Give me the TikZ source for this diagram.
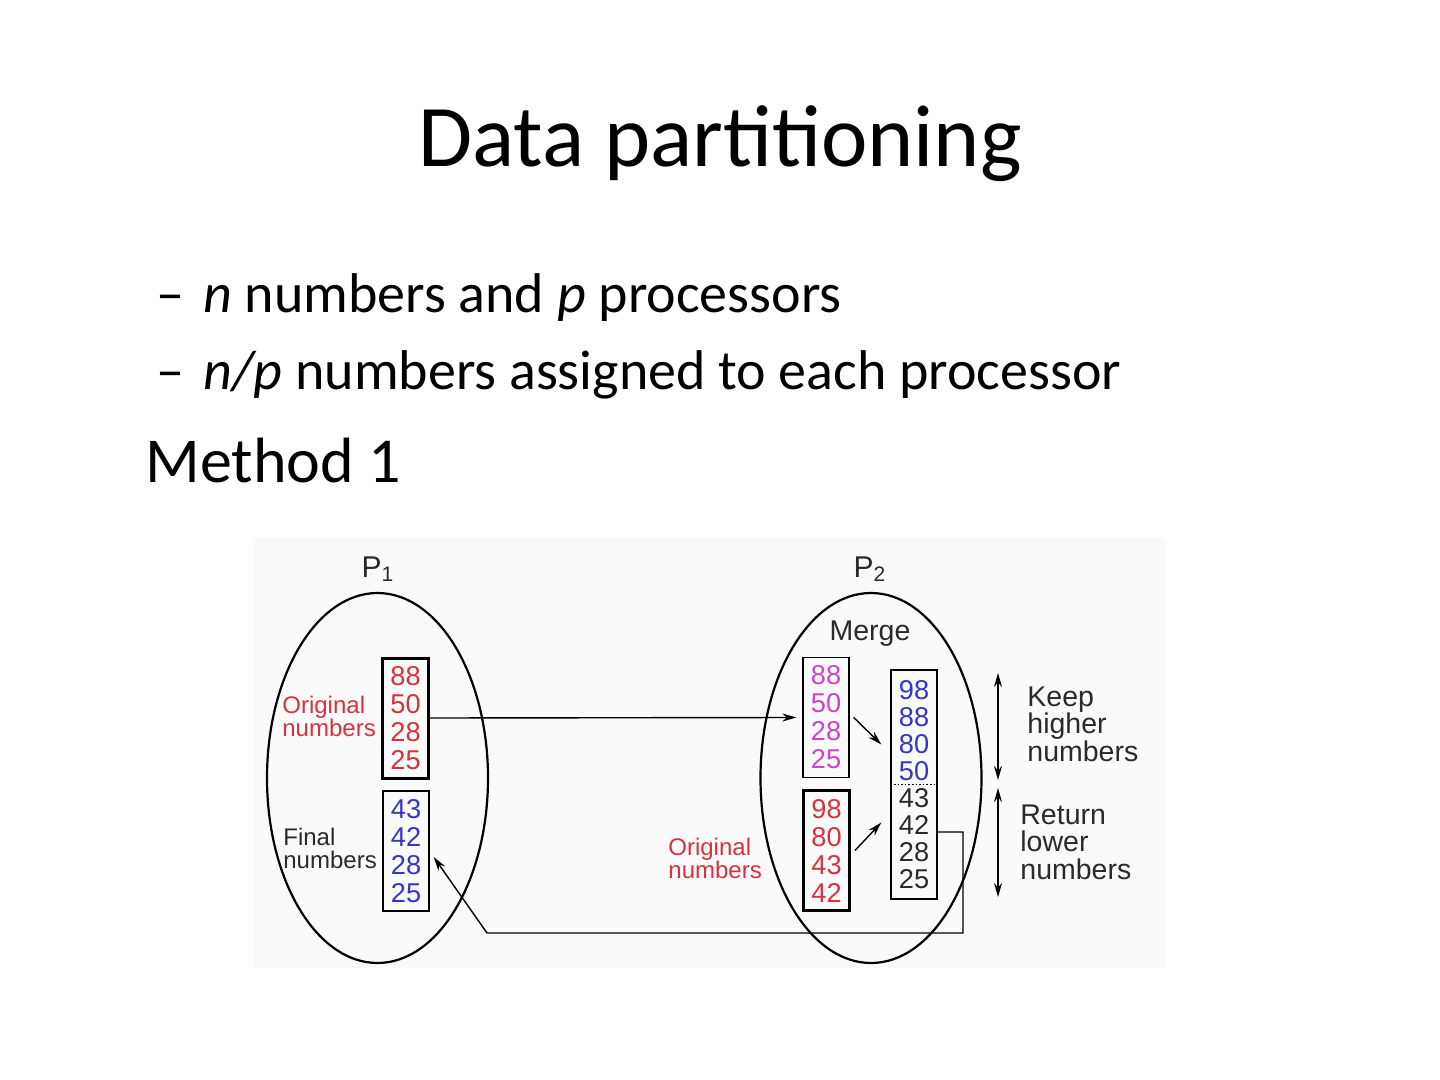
\documentclass[tikz,border=0pt]{standalone}
\usepackage{fontspec}
\setmainfont{Carlito}
\newfontfamily\diagfont{Liberation Sans}
\usetikzlibrary{arrows.meta,calc,positioning,shapes.geometric}
\definecolor{numred}{HTML}{D8323C}
\definecolor{nummag}{HTML}{CC44CC}
\definecolor{numblue}{HTML}{3535C8}
\definecolor{labgray}{HTML}{2A2A2A}
\definecolor{figbg}{HTML}{FAFAFA}
\tikzset{
  numbox/.style={draw,line width=0.7pt,minimum width=23pt,minimum height=60pt,inner sep=0pt,align=center,font=\diagfont\fontsize{13.6}{14}\selectfont},
  heavybox/.style={numbox,line width=1.5pt},
  proc/.style={draw,ellipse,line width=1.1pt,minimum width=110.5pt,minimum height=185pt,inner sep=0pt},
  sidelabel/.style={align=left,inner sep=0pt,anchor=north west,font=\diagfont\fontsize{12}{11.5}\selectfont},
  notelabel/.style={align=left,inner sep=0pt,anchor=north west,font=\diagfont\fontsize{14.25}{13.75}\selectfont},
  plabel/.style={anchor=base,inner sep=0pt,text=labgray,font=\diagfont\fontsize{15}{15}\selectfont},
  slidetext/.style={anchor=base west,inner sep=0pt,font=\fontsize{28}{28}\selectfont}
}

\begin{document}
\begin{tikzpicture}[x=0.5pt,y=-0.5pt,>={Stealth[length=7pt,width=4pt]}]
\useasboundingbox (0,0) rectangle (1440,1080);
\node[anchor=base,inner sep=0pt,font=\fontsize{44}{44}\selectfont] (title) at (720,167) {Data partitioning};
\node[slidetext] (dashA) at (156,313) {--};
\node[slidetext] (itemA) at (203,313) {\textit{n} numbers and \textit{p} processors};
\node[slidetext] (dashB) at (156,390) {--};
\node[slidetext] (itemB) at (203,390) {\textit{n/p} numbers assigned to each processor};
\node[slidetext,font=\fontsize{32}{32}\selectfont] (method) at (145,482) {Method 1};

\fill[figbg] (253,538) rectangle (1165,968);
\node[proc] (procA) at (377.5,778) {};
\node[proc] (procB) at (871,778) {};
\node[plabel] (labA) at (378,577) {P\textsubscript{1}};
\node[plabel] (labB) at (870,577) {P\textsubscript{2}};
\node[plabel,font=\diagfont\fontsize{14.25}{14}\selectfont] (merge) at (870,640) {Merge};

\node[heavybox,text=numred] (p1orig) at (405.5,718) {88\\50\\28\\25};
\node[numbox,text=numblue] (p1fin) at (406,851) {43\\42\\28\\25};
\node[numbox,text=nummag] (p2mag) at (826,717.5) {88\\50\\28\\25};
\node[heavybox,text=numred] (p2red) at (826.5,850.5) {98\\80\\43\\42};
\node[numbox,minimum height=114.5pt,font=\diagfont\fontsize{13.6}{13.5}\selectfont] (merged) at (914,784.5)
  {\textcolor{numblue}{98}\\\textcolor{numblue}{88}\\\textcolor{numblue}{80}\\\textcolor{numblue}{50}\\
   \textcolor{labgray}{43}\\\textcolor{labgray}{42}\\\textcolor{labgray}{28}\\\textcolor{labgray}{25}};
\draw[densely dotted,line width=0.8pt] (merged.west) -- (merged.east);

\node[sidelabel,text=numred] (origA) at (282,696) {Original\\numbers};
\node[sidelabel,text=labgray] (finA) at (283,828) {Final\\numbers};
\node[sidelabel,text=numred] (origB) at (668,838) {Original\\numbers};
\node[notelabel,text=labgray] (keep) at (1027,686) {Keep\\higher\\numbers};
\node[notelabel,text=labgray] (ret) at (1020,804) {Return\\lower\\numbers};

\coordinate (keeptop) at (998,673);
\coordinate (keepbot) at (998,780);
\coordinate (rettop) at (998,788);
\coordinate (retbot) at (998,897);
\coordinate (backA) at (963,933);
\coordinate (backB) at (487,933);

\draw[->,line width=0.7pt] (p1orig.east) -- ([xshift=-3pt]p2mag.west);
\draw[->,line width=0.7pt] ([xshift=2pt]p2mag.east) -- ([shift={(-4.5pt,20pt)}]merged.west);
\draw[->,line width=0.7pt] ([xshift=2pt]p2red.east) -- ([shift={(-4.5pt,-19pt)}]merged.west);
\draw[->,line width=0.7pt] ([yshift=-23.75pt]merged.east) -| (backA) -- (backB) -- ([shift={(2pt,-3pt)}]p1fin.east);
\draw[<->,line width=0.7pt] (keeptop) -- (keepbot);
\draw[<->,line width=0.7pt] (rettop) -- (retbot);
\end{tikzpicture}
\end{document}
